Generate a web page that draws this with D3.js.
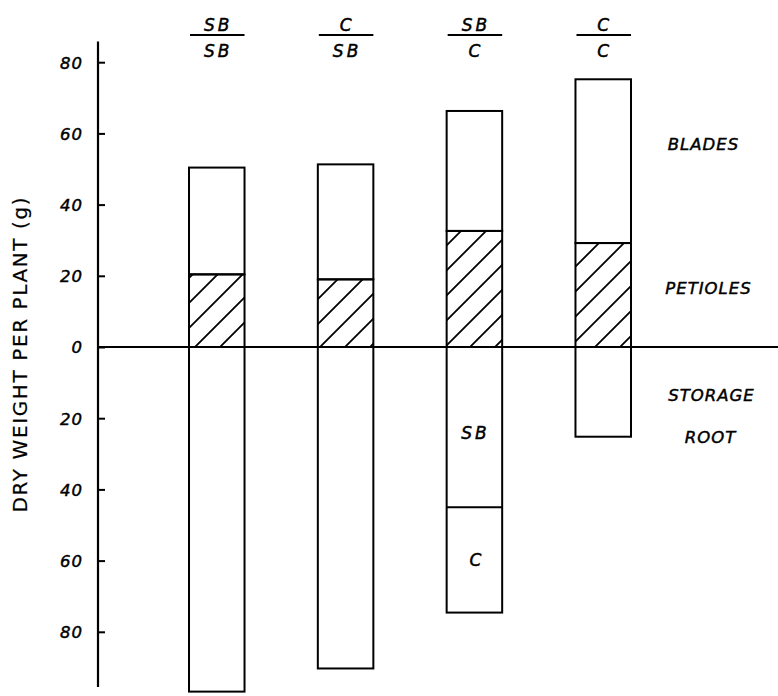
<!DOCTYPE html>
<html>
<head>
<meta charset="utf-8">
<script src="https://cdn.jsdelivr.net/npm/d3@7"></script>
<style>
  html, body { margin: 0; padding: 0; background: #fff; }
  svg { display: block; }
  text { font-family: "DejaVu Sans", sans-serif; fill: #000; stroke: #000; stroke-width: 0.45px; }
</style>
</head>
<body>
<svg id="chart" width="778" height="696"></svg>
<script>
// ---- data (g dry weight per plant) ----
const numerators   = ["SB", "C", "SB", "C"];     // scion (top)
const denominators = ["SB", "SB", "C", "C"];     // rootstock (bottom)
const petioles     = [20.4, 19.0, 32.6, 29.2];
const blades       = [30.0, 32.3, 33.7, 46.0];
const storageRoot  = [96.8, 90.3, 74.6, 25.2];
const rootSplitSB  = [null, null, 45.0, null];   // SB portion of root in SB/C graft
const rootSplitLabels = ["SB", "C"];
const tickValues   = [-80, -60, -40, -20, 0, 20, 40, 60, 80];
const partLabels   = ["BLADES", "PETIOLES", "STORAGE", "ROOT"];
const yTitle       = "DRY WEIGHT PER PLANT (g)";

const svg = d3.select("#chart");
const keys = numerators.map((d, i) => i);

const y = d3.scaleLinear().domain([-100, 90]).range([703, 26.6]);
const x = d3.scaleBand().domain(keys).range([189, 631]).paddingInner(0.569).paddingOuter(0);

// hatch pattern
const defs = svg.append("defs");
const pat = defs.append("pattern")
  .attr("id", "hatch").attr("patternUnits", "userSpaceOnUse")
  .attr("width", 25).attr("height", 25)
  .attr("x", 20).attr("y", y(0));
pat.append("path")
  .attr("d", "M-5,5 L5,-5 M0,25 L25,0 M20,30 L30,20")
  .attr("stroke", "#000").attr("stroke-width", 1.8);

// axis
const axisX = 98;
const yAxis = d3.axisRight(y).tickValues(tickValues).tickSize(7).tickFormat(d => Math.abs(d));
const gAxis = svg.append("g").attr("transform", `translate(${axisX},0)`).call(yAxis);
gAxis.select(".domain").remove();
gAxis.selectAll(".tick line").attr("stroke", "#000").attr("stroke-width", 2);
gAxis.selectAll(".tick text")
  .attr("x", -15).attr("dy", "0.36em")
  .attr("text-anchor", "end")
  .style("font-family", "DejaVu Sans").style("font-size", "16.5px")
  .style("font-style", "italic").style("letter-spacing", "1px")
  .attr("fill", "#000");
svg.append("line")
  .attr("x1", axisX).attr("x2", axisX)
  .attr("y1", y(85.8)).attr("y2", y(-95.5))
  .attr("stroke", "#000").attr("stroke-width", 2.2);

// y title
svg.append("text")
  .attr("transform", `translate(20,${y(-2)}) rotate(-90)`)
  .attr("text-anchor", "middle").attr("dominant-baseline", "central")
  .style("font-size", "20px").style("letter-spacing", "1.6px")
  .style("stroke-width", "0.2px")
  .text(yTitle);

// bars
const bars = svg.append("g");
// petioles (hatched)
bars.selectAll("rect.pet").data(keys).join("rect")
  .attr("x", i => x(i)).attr("width", x.bandwidth())
  .attr("y", i => y(petioles[i])).attr("height", i => y(0) - y(petioles[i]))
  .attr("fill", "url(#hatch)").attr("stroke", "#000").attr("stroke-width", 2);
// blades
bars.selectAll("rect.bla").data(keys).join("rect")
  .attr("x", i => x(i)).attr("width", x.bandwidth())
  .attr("y", i => y(petioles[i] + blades[i]))
  .attr("height", i => y(petioles[i]) - y(petioles[i] + blades[i]))
  .attr("fill", "none").attr("stroke", "#000").attr("stroke-width", 2);
// storage roots
bars.selectAll("rect.root").data(keys).join("rect")
  .attr("x", i => x(i)).attr("width", x.bandwidth())
  .attr("y", y(0)).attr("height", i => y(-storageRoot[i]) - y(0))
  .attr("fill", "none").attr("stroke", "#000").attr("stroke-width", 2);
// root split line
keys.filter(i => rootSplitSB[i] != null).forEach(i => {
  bars.append("line")
    .attr("x1", x(i)).attr("x2", x(i) + x.bandwidth())
    .attr("y1", y(-rootSplitSB[i])).attr("y2", y(-rootSplitSB[i]))
    .attr("stroke", "#000").attr("stroke-width", 2);
  const mids = [rootSplitSB[i] / 2 + 1.7, (rootSplitSB[i] + storageRoot[i]) / 2];
  rootSplitLabels.forEach((t, k) => {
    bars.append("text")
      .attr("x", x(i) + x.bandwidth() / 2 + 1).attr("y", y(-mids[k]))
      .attr("text-anchor", "middle").attr("dominant-baseline", "central")
      .style("font-size", "17px").style("font-style", "italic")
      .style("letter-spacing", t.length > 1 ? "3px" : "0px")
      .text(t);
  });
});

// zero line
svg.append("line")
  .attr("x1", axisX).attr("x2", 778)
  .attr("y1", y(0)).attr("y2", y(0))
  .attr("stroke", "#000").attr("stroke-width", 2);

// fraction labels
const lab = svg.append("g");
keys.forEach(i => {
  const cx = x(i) + x.bandwidth() / 2;
  lab.append("line")
    .attr("x1", x(i) + 1).attr("x2", x(i) + x.bandwidth())
    .attr("y1", 35).attr("y2", 35)
    .attr("stroke", "#000").attr("stroke-width", 2);
  [[numerators[i], 25], [denominators[i], 51]].forEach(([t, yy]) => {
    lab.append("text")
      .attr("x", cx + (t.length > 1 ? 1.5 : 0)).attr("y", yy)
      .attr("text-anchor", "middle").attr("dominant-baseline", "central")
      .style("font-size", "17px").style("font-style", "italic")
      .style("letter-spacing", t.length > 1 ? "3px" : "0px")
      .text(t);
  });
});

// part labels on the right
const partPos = [[703, 144], [708, 288], [711, 395], [710, 437]];
partLabels.forEach((t, k) => {
  svg.append("text")
    .attr("x", partPos[k][0] + 0.5).attr("y", partPos[k][1])
    .attr("text-anchor", "middle").attr("dominant-baseline", "central")
    .style("font-size", "16.5px").style("font-style", "italic")
    .style("letter-spacing", "1px")
    .text(t);
});
</script>
</body>
</html>
